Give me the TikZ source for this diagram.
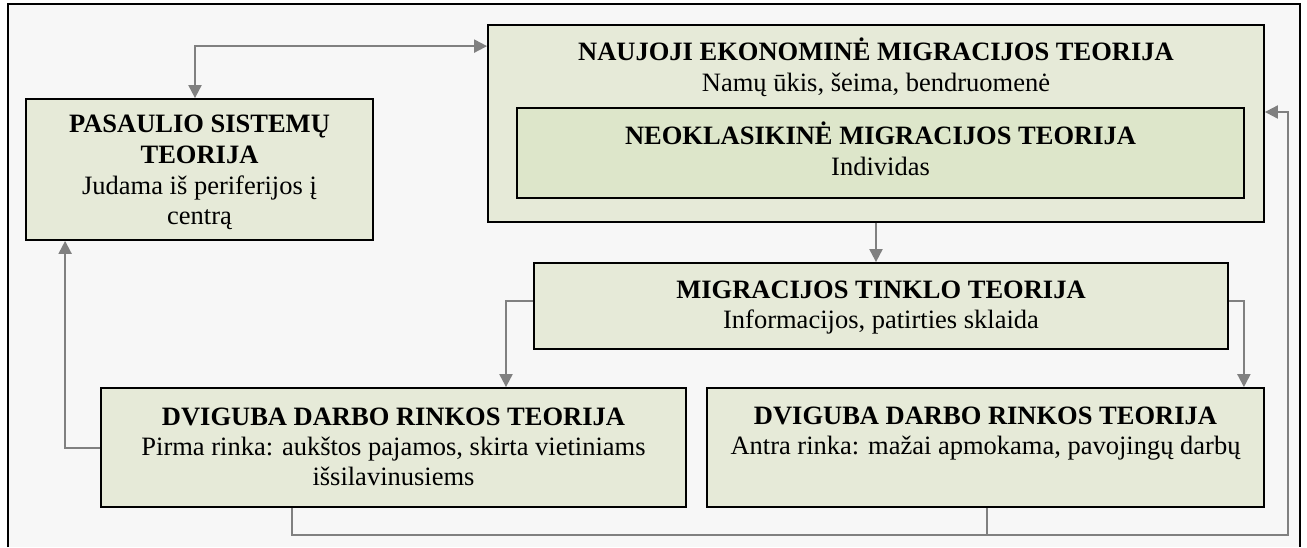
\documentclass[tikz,border=0pt]{standalone}
\usepackage{fontspec}
\setmainfont{Liberation Serif}
\usetikzlibrary{arrows.meta}
\definecolor{boxfill}{HTML}{E6EAD8}
\definecolor{innerfill}{HTML}{DDE6CA}
\definecolor{bgfill}{HTML}{F7F7F7}
\definecolor{conncol}{HTML}{808080}
\begin{document}
\begin{tikzpicture}[x=1pt,y=-1pt,
  >={Triangle[length=13pt,width=13pt]},
  box/.style={draw=black, line width=1.8pt, fill=boxfill, rectangle, inner sep=0pt},
  conn/.style={draw=conncol, line width=2pt},
  ttl/.style={anchor=base, font=\fontsize{26.5}{30}\selectfont\bfseries, inner sep=0pt},
  sub/.style={anchor=base, font=\fontsize{26.5}{30}\selectfont, inner sep=0pt}]
\useasboundingbox (0,0) rectangle (1307,547);
\fill[white] (0,0) rectangle (1307,547);
\fill[bgfill] (8,4) rectangle (1300,547);
\draw[line width=1.6pt] (8,547) -- (8,4) -- (1300,4) -- (1300,547);

% boxes
\node[box, minimum width=347pt, minimum height=141pt] (pas) at (199.5,169.5) {};
\node[box, minimum width=776pt, minimum height=197pt] (nau) at (876,123.5) {};
\node[box, fill=innerfill, minimum width=727pt, minimum height=90pt] (neo) at (880.5,153) {};
\node[box, minimum width=694pt, minimum height=86pt] (mig) at (881,306) {};
\node[box, minimum width=585pt, minimum height=119pt] (dv1) at (393.5,447.5) {};
\node[box, minimum width=557pt, minimum height=119pt] (dv2) at (985.5,447.5) {};

% texts
\node[ttl] (pasA) at (199.5,132) {PASAULIO SISTEMŲ};
\node[ttl] (pasB) at (199.5,163) {TEORIJA};
\node[sub] (pasC) at (199.5,194) {Judama iš periferijos į};
\node[sub] (pasD) at (199.5,224) {centrą};

\node[ttl] (nauA) at (876,60) {NAUJOJI EKONOMINĖ MIGRACIJOS TEORIJA};
\node[sub] (nauB) at (876,91) {Namų ūkis, šeima, bendruomenė};

\node[ttl] (neoA) at (880.5,144) {NEOKLASIKINĖ MIGRACIJOS TEORIJA};
\node[sub] (neoB) at (880.5,175) {Individas};

\node[ttl] (migA) at (881,298) {MIGRACIJOS TINKLO TEORIJA};
\node[sub] (migB) at (881,328) {Informacijos, patirties sklaida};

\node[ttl] (dv1A) at (393.5,425) {DVIGUBA DARBO RINKOS TEORIJA};
\node[sub] (dv1B) at (393.5,455) {Pirma rinka: aukštos pajamos, skirta vietiniams};
\node[sub] (dv1C) at (393.5,485) {išsilavinusiems};

\node[ttl] (dv2A) at (985.5,424) {DVIGUBA DARBO RINKOS TEORIJA};
\node[sub] (dv2B) at (985.5,454) {Antra rinka: mažai apmokama, pavojingų darbų};

% connectors
\coordinate (pasTop) at ([xshift=-4.5pt]pas.north);
\coordinate (nauIn) at ([yshift=-22pt]nau.north west);
\draw[conn,<->] (pasTop) |- (nauIn);

\draw[conn,->] (nau.south) -- (nau.south |- mig.north);

\coordinate (migL) at ([yshift=5pt]mig.west);
\coordinate (dv1In) at ([xshift=112.5pt]dv1.north);
\draw[conn,->] (migL) -| (dv1In);

\coordinate (migR) at ([yshift=5pt]mig.east);
\coordinate (dv2In) at ([xshift=-21pt]dv2.north east);
\draw[conn,->] (migR) -| (dv2In);

\coordinate (pasIn) at ([xshift=40pt]pas.south west);
\draw[conn,->] (dv1.west) -| (pasIn);

\coordinate (br) at (1288,535);
\coordinate (d1b) at ([xshift=192pt]dv1.south west);
\coordinate (d2b) at ([xshift=281pt]dv2.south west);
\coordinate (nauR) at ([yshift=11.5pt]nau.east);
\draw[conn,->] (d1b) |- (br) |- (nauR);
\draw[conn] (d2b) -- (d2b |- br);
\end{tikzpicture}
\end{document}
